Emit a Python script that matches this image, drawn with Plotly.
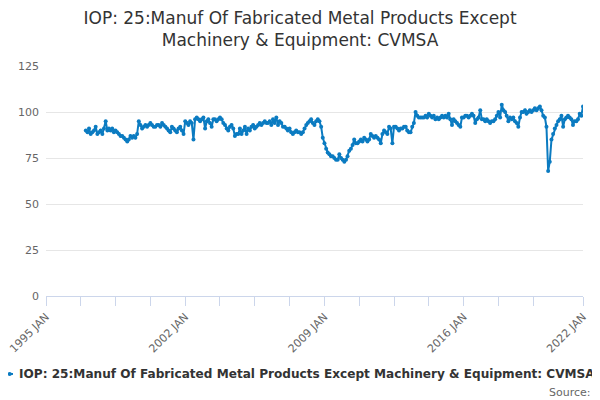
import plotly.graph_objs as go
import pandas as pd

# Monthly index values (Jan 1997 - Jan 2022)
v1997 = [90, 89, 91, 88, 89, 90, 92, 88, 89, 90, 88, 91]
v1998 = [95, 90, 91, 90, 91, 89, 90, 89, 88, 87, 87, 86]
v1999 = [85, 84, 85, 87, 86, 87, 86, 88, 95, 93, 91, 92]
v2000 = [93, 92, 93, 94, 93, 92, 92, 93, 93, 92, 94, 93]
v2001 = [92, 91, 90, 89, 92, 91, 90, 89, 91, 92, 90, 88]
v2002 = [95, 94, 93, 95, 94, 85, 96, 97, 96, 95, 96, 97]
v2003 = [91, 95, 96, 94, 92, 96, 96, 95, 96, 97, 96, 94]
v2004 = [93, 91, 90, 92, 93, 91, 87, 88, 88, 91, 88, 90]
v2005 = [92, 88, 91, 90, 92, 93, 91, 92, 93, 94, 93, 94]
v2006 = [95, 94, 94, 95, 93, 96, 94, 97, 93, 95, 94, 92]
v2007 = [92, 91, 90, 91, 89, 88, 89, 90, 89, 89, 88, 89]
v2008 = [91, 93, 94, 95, 96, 94, 93, 95, 96, 95, 92, 86]
v2009 = [83, 80, 78, 77, 76, 76, 75, 74, 74, 77, 75, 74]
v2010 = [73, 74, 76, 79, 80, 82, 85, 83, 83, 84, 85, 84]
v2011 = [86, 85, 84, 85, 88, 87, 86, 87, 86, 85, 83, 88]
v2012 = [90, 89, 88, 92, 91, 83, 92, 92, 91, 90, 91, 91]
v2013 = [92, 92, 90, 89, 89, 92, 94, 100, 98, 97, 97, 97]
v2014 = [97, 98, 97, 99, 98, 97, 98, 96, 97, 96, 97, 98]
v2015 = [97, 98, 97, 99, 96, 93, 96, 95, 94, 93, 92, 97]
v2016 = [97, 98, 98, 97, 98, 99, 98, 94, 96, 97, 101, 96]
v2017 = [96, 95, 96, 95, 94, 95, 95, 96, 98, 100, 97, 104]
v2018 = [101, 100, 98, 95, 97, 96, 97, 95, 94, 92, 97, 100]
v2019 = [100, 101, 99, 100, 101, 100, 101, 102, 101, 102, 103, 101]
v2020 = [98, 97, 92, 68, 73, 85, 88, 91, 93, 95, 96, 98]
v2021 = [92, 96, 97, 98, 97, 96, 93, 95, 95, 96, 99, 98]
v2022 = [103]

valores = (v1997 + v1998 + v1999 + v2000 + v2001 + v2002 + v2003 + v2004 + v2005
           + v2006 + v2007 + v2008 + v2009 + v2010 + v2011 + v2012 + v2013 + v2014
           + v2015 + v2016 + v2017 + v2018 + v2019 + v2020 + v2021 + v2022)
datas = pd.date_range('1997-01-01', periods=len(valores), freq='MS')

# x ticks every 21 months, labels only on some
tick_datas = ['1995-01-01', '1996-10-01', '1998-07-01', '2000-04-01', '2002-01-01',
              '2003-10-01', '2005-07-01', '2007-04-01', '2009-01-01', '2010-10-01',
              '2012-07-01', '2014-04-01', '2016-01-01', '2017-10-01', '2019-07-01',
              '2022-01-01']
tick_textos = ['1995 JAN', '', '', '', '2002 JAN', '', '', '', '2009 JAN', '', '', '',
               '2016 JAN', '', '', '2022 JAN']

nome = 'IOP: 25:Manuf Of Fabricated Metal Products Except Machinery & Equipment: CVMSA'
cor = '#0b7bc1'

fig = go.Figure()
fig.add_trace(go.Scatter(
    x=datas, y=valores, mode='lines+markers', name=nome,
    line=dict(color=cor, width=2),
    marker=dict(color=cor, size=4),
    showlegend=False
))

# legenda desenhada a mão (a legenda do plotly não pode sair da figura)
leg_y = -0.339
fig.add_shape(type='line', xref='paper', yref='paper', x0=-0.072, x1=-0.0615,
              y0=leg_y, y1=leg_y, line=dict(color=cor, width=2))
fig.add_shape(type='circle', xref='paper', yref='paper', x0=-0.0713, x1=-0.0638,
              y0=leg_y - 0.0087, y1=leg_y + 0.0087, fillcolor=cor, line=dict(width=0))

fig.update_layout(
    width=600, height=400,
    paper_bgcolor='white', plot_bgcolor='white',
    font=dict(family='DejaVu Sans', color='#666666'),
    margin=dict(l=38, r=25, t=58, b=112, autoexpand=False),
    title=dict(
        text='IOP: 25:Manuf Of Fabricated Metal Products Except<br>Machinery & Equipment: CVMSA',
        x=0.4867, xanchor='center', y=0.96, yanchor='top',
        font=dict(size=17, color='#333333', family='DejaVu Sans')
    ),
    xaxis=dict(
        type='date', range=['1995-01-01', '2022-01-01'], automargin=False,
        tickmode='array', tickvals=tick_datas, ticktext=tick_textos,
        tickangle=-45, ticks='outside', ticklen=9, tickcolor='#ccd6eb',
        ticklabeloverflow='allow',
        showline=True, linecolor='#ccd6eb', linewidth=1,
        showgrid=False, zeroline=False,
        tickfont=dict(size=11, color='#666666')
    ),
    yaxis=dict(
        range=[0, 125], tickvals=[0, 25, 50, 75, 100, 125], automargin=False,
        gridcolor='#e6e6e6', zeroline=False, showline=False,
        tickfont=dict(size=11, color='#666666'), ticklabelstandoff=6
    ),
    annotations=[
        dict(text='<b>' + nome + '</b>', xref='paper', yref='paper', x=-0.0535, y=leg_y,
             xanchor='left', yanchor='middle', showarrow=False,
             font=dict(size=12.1, color='#333333')),
        dict(text='Source:', xref='paper', yref='paper', x=1.018, y=-0.4217,
             xanchor='right', yanchor='middle', showarrow=False,
             font=dict(size=11, color='#666666'))
    ]
)

fig.write_html('out.html')
